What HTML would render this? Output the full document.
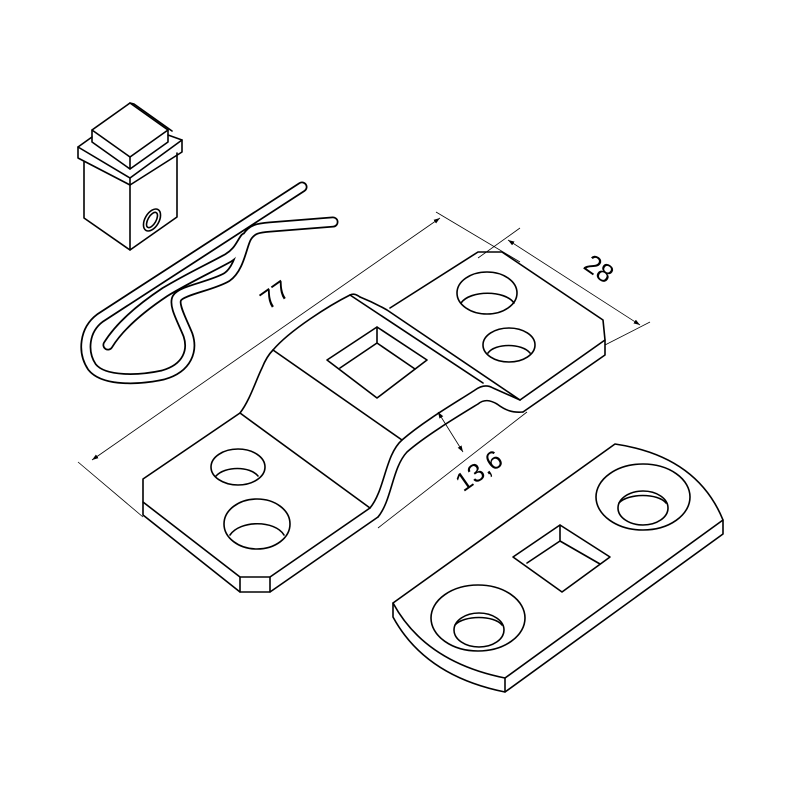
<!DOCTYPE html>
<html><head><meta charset="utf-8"><style>
html,body{margin:0;padding:0;background:#fff;width:800px;height:800px;overflow:hidden}
svg{display:block}
text{font-family:"Liberation Sans",sans-serif;fill:#000}
</style></head><body>
<svg width="800" height="800" viewBox="0 0 800 800" xmlns="http://www.w3.org/2000/svg">
<defs>
<marker id="ar" viewBox="0 0 10 10" refX="10" refY="5" markerWidth="8" markerHeight="8" orient="auto-start-reverse"><path d="M0,1.5 L10,5 L0,8.5 z" fill="#000"/></marker>
</defs>
<g fill="none" stroke="#000" stroke-width="1.6" stroke-linejoin="round" stroke-linecap="round">

<!-- small block -->
<path d="M92,130 L130,103 L168,130 L130,157 Z" fill="#fff"/>
<path d="M92,130 L92,142 L130,169 L168,142 L168,130"/>
<path d="M130,157 L130,169"/>
<path d="M130,103 L134,104 L172,131"/>
<path d="M92,137 L78,147 L78,158 L130,185"/>
<path d="M168,135 L182,140 L182,152 L130,185"/>
<path d="M78,147 L130,178 L182,140"/>
<path d="M130,178 L130,185"/>
<path d="M84,162 L84,218 L130,250 L177,217 L177,153"/>
<path d="M130,185 L130,250"/>
<ellipse cx="152" cy="220" rx="7" ry="12" transform="rotate(30 152 220)"/>
<ellipse cx="152" cy="220" rx="4" ry="8.5" transform="rotate(30 152 220)"/>

<!-- clip (tube) -->
<g stroke-width="11">
<path d="M302,187 L100,318 C84,330 82,352 92,367 C104,382 140,380 163,375 C188,368 193,350 188,335 C182,320 173,305 177,298 C182,290 212,286 227,277 C240,268 242,245 247,237 C252,229 258,228 270,227 L333,222"/>
<path d="M108,345 C122,322 150,302 165,292 C190,277 210,268 228,258 C238,252 240,245 245,238"/>
</g>
<g stroke="#fff" stroke-width="7.5">
<path d="M302,187 L100,318 C84,330 82,352 92,367 C104,382 140,380 163,375 C188,368 193,350 188,335 C182,320 173,305 177,298 C182,290 212,286 227,277 C240,268 242,245 247,237 C252,229 258,228 270,227 L333,222"/>
<path d="M108,345 C122,322 150,302 165,292 C190,277 210,268 228,258 C238,252 240,245 245,238"/>
</g>

<!-- main bracket -->
<path d="M143,479 L240,413 L370,508 L270,577 L240,577 L143,502 Z" fill="#fff"/>
<path d="M143,502 L143,515 L240,592 L270,592 L378,517"/>
<path d="M240,577 L240,592 M270,577 L270,592"/>
<ellipse cx="238" cy="467" rx="27" ry="18"/>
<path d="M216,476 C225,466 250,466 258,476"/>
<ellipse cx="257" cy="524" rx="33" ry="25"/>
<path d="M230,535 C240,520 275,520 284,535"/>
<path d="M240,413 C250,400 256,380 262,368 C266,358 270,353 273,350"/>
<path d="M273,350 L402,440"/>
<path d="M273,350 C290,330 330,305 350,295 C354,293 357,295 360,297"/>
<path d="M350,295 L483,383"/>
<path d="M360,297 C370,301 380,306 387,310 L520,400"/>
<path d="M370,508 C385,490 385,455 402,440 C425,420 460,400 475,390 C482,385 488,385 493,388 L520,400"/>
<path d="M378,517 C392,500 392,468 407,452 C425,436 460,415 478,404 C484,399 490,400 497,404 C505,410 512,413 523,412"/>
<path d="M377,327 L427,360 L377,398 L327,360 Z"/>
<path d="M377,327 L377,343 L340,368 M377,343 L415,369"/>
<path d="M390,308 L478,252 L502,252 L603,320 L605,340 L520,400"/>
<path d="M605,340 L605,355 L523,412"/>
<ellipse cx="487" cy="293" rx="30" ry="21"/>
<path d="M461,303 C470,290 505,290 514,303"/>
<ellipse cx="509" cy="345" rx="26" ry="17"/>
<path d="M488,353 C495,343 522,343 530,353"/>

<!-- second plate -->
<path d="M393,603 L615,444 Q697,456 723,520 L505,678 Q425,662 393,603 Z" fill="#fff"/>
<path d="M393,603 L393,617 Q425,676 505,692 L723,534 L723,520"/>
<path d="M505,678 L505,692"/>
<ellipse cx="643" cy="497" rx="47" ry="33"/>
<ellipse cx="643" cy="508" rx="25" ry="17"/>
<path d="M619,503 C628,493 658,493 666,503"/>
<ellipse cx="478" cy="618" rx="47" ry="33"/>
<ellipse cx="479" cy="630" rx="25" ry="17"/>
<path d="M455,625 C464,615 494,615 502,625"/>
<path d="M513,557 L560,525 L610,557 L562,592 Z"/>
<path d="M560,525 L560,541 L527,563 M560,541 L600,564"/>
</g>

<!-- dimensions -->
<g fill="none" stroke="#000" stroke-width="0.8">
<path d="M78,462 L143,517"/>
<path d="M436,212 L520,262"/>
<path d="M92,460 L440,218" marker-start="url(#ar)" marker-end="url(#ar)"/>
<path d="M478,258 L520,228"/>
<path d="M605,345 L650,322"/>
<path d="M508,240 L640,325" marker-start="url(#ar)" marker-end="url(#ar)"/>
<path d="M378,528 L527,412"/>
<path d="M438,412 L463,452" marker-start="url(#ar)" marker-end="url(#ar)"/>
</g>
<text x="280" y="302" font-size="26" text-anchor="middle" transform="rotate(-35 280 302)">77</text>
<text x="594" y="276" font-size="26" text-anchor="middle" transform="rotate(35 594 276)">28</text>
<text x="484" y="478" font-size="26" text-anchor="middle" transform="rotate(-35 484 478)">13,6</text>
</svg>
</body></html>
